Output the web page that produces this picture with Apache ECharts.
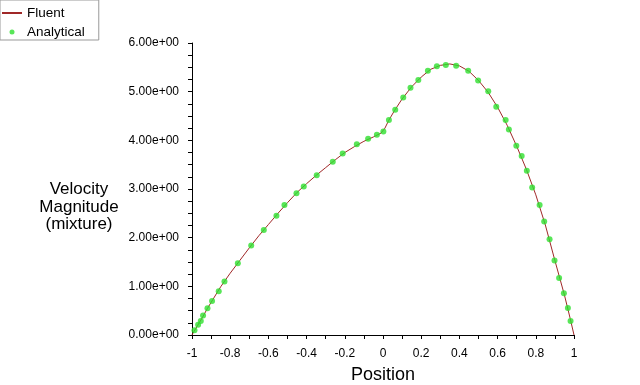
<!DOCTYPE html>
<html>
<head>
<meta charset="utf-8">
<script src="https://cdn.jsdelivr.net/npm/echarts@6/dist/echarts.min.js"></script>
<style>html,body{margin:0;padding:0;background:#fff}#c{width:640px;height:385px}</style>
</head>
<body>
<div id="c"></div>
<script>
const fluentX = [-1,-0.99,-0.97,-0.95,-0.92,-0.9,-0.85,-0.8,-0.75,-0.7,-0.65,-0.6,-0.55,-0.5,-0.45,-0.4,-0.35,-0.3,-0.25,-0.2,-0.15,-0.1,-0.05,-0.01,0.01,0.03,0.06,0.1,0.15,0.2,0.25,0.3,0.35,0.4,0.45,0.5,0.55,0.6,0.65,0.7,0.75,0.8,0.85,0.9,0.95,0.98,1.0];
const fluentY = [0,0.07,0.2,0.33,0.54,0.67,0.99,1.27,1.53,1.79,2.04,2.27,2.5,2.72,2.93,3.11,3.28,3.44,3.6,3.75,3.87,3.98,4.07,4.15,4.25,4.41,4.61,4.85,5.1,5.3,5.46,5.54,5.57,5.53,5.42,5.23,4.99,4.68,4.31,3.88,3.41,2.88,2.26,1.53,0.82,0.34,0];
const analyticalX = [-0.987,-0.968,-0.954,-0.942,-0.919,-0.895,-0.860,-0.830,-0.760,-0.690,-0.624,-0.558,-0.516,-0.453,-0.415,-0.347,-0.263,-0.211,-0.137,-0.078,-0.032,0.002,0.031,0.064,0.106,0.144,0.185,0.235,0.282,0.329,0.383,0.446,0.498,0.551,0.593,0.642,0.659,0.698,0.726,0.753,0.781,0.820,0.844,0.872,0.898,0.922,0.947,0.968,0.982];
const analyticalY = [0.097,0.21,0.29,0.40,0.55,0.70,0.90,1.10,1.475,1.84,2.16,2.45,2.67,2.915,3.05,3.285,3.56,3.73,3.92,4.03,4.115,4.18,4.42,4.63,4.88,5.08,5.24,5.43,5.52,5.55,5.535,5.43,5.23,5.01,4.69,4.42,4.225,3.89,3.68,3.375,3.03,2.67,2.33,1.97,1.53,1.17,0.86,0.555,0.29];
const yTickLabels = ['0.00e+00','1.00e+00','2.00e+00','3.00e+00','4.00e+00','5.00e+00','6.00e+00'];
const xTickLabels = {'-1':'-1','-0.8':'-0.8','-0.6':'-0.6','-0.4':'-0.4','-0.2':'-0.2','0':'0','0.2':'0.2','0.4':'0.4','0.6':'0.6','0.8':'0.8','1':'1'};
const yAxisTitle = ['Velocity','Magnitude','(mixture)'];

const FONT = 'Liberation Sans, Arial, sans-serif';
const chart = echarts.init(document.getElementById('c'), null, {renderer:'canvas'});
chart.setOption({
  backgroundColor:'#fff',
  animation:false,
  grid:{left:192, right:66, top:43, bottom:50, containLabel:false, outerBoundsMode:'none'},
  legend:{
    orient:'vertical', left:0, top:0,
    padding:[5,14,0,1],
    itemGap:3, itemWidth:20, itemHeight:5,
    borderColor:'#999', borderWidth:1,
    textStyle:{fontFamily:FONT, fontSize:13.5, color:'#000', lineHeight:16},
    data:[{name:'Fluent', itemStyle:{opacity:0}}, 'Analytical']
  },
  xAxis:{
    type:'value', min:-1, max:1, interval:0.2,
    name:'Position', nameLocation:'middle', nameGap:31,
    nameTextStyle:{fontFamily:FONT, fontSize:18, color:'#000'},
    axisLine:{show:true, onZero:false, lineStyle:{color:'#000', width:1}},
    axisTick:{show:true, length:4, lineStyle:{color:'#000'}},
    minorTick:{show:true, splitNumber:2, length:4, lineStyle:{color:'#000'}},
    splitLine:{show:false},
    axisLabel:{fontFamily:FONT, fontSize:12, color:'#000', margin:13,
      formatter:v=>{const k=String(Math.round(v*10)/10); return xTickLabels[k]!==undefined?xTickLabels[k]:k;}}
  },
  yAxis:{
    type:'value', min:0, max:6, interval:1,
    axisLine:{show:true, onZero:false, lineStyle:{color:'#000', width:1}},
    axisTick:{show:true, length:4, lineStyle:{color:'#000'}},
    minorTick:{show:true, splitNumber:4, length:4, lineStyle:{color:'#000'}},
    splitLine:{show:false},
    axisLabel:{fontFamily:FONT, fontSize:12, color:'#000', margin:13,
      formatter:v=>yTickLabels[Math.round(v)]}
  },
  graphic:[{
    type:'text', x:79, y:207,
    style:{text:yAxisTitle.join('\n'), font:'17px '+FONT, fill:'#000',
      align:'center', verticalAlign:'middle', lineHeight:17.5}
  }],
  series:[
    {name:'Fluent', type:'line', data:fluentX.map((x,i)=>[x,fluentY[i]]),
     showSymbol:false, symbol:'none', smooth:false,
     lineStyle:{color:'#a02828', width:1}, itemStyle:{color:'#a02828'}, z:2},
    {name:'Analytical', type:'scatter', data:analyticalX.map((x,i)=>[x,analyticalY[i]]),
     symbol:'circle', symbolSize:6, itemStyle:{color:'#2ee02e'}, z:3}
  ]
});
</script>
</body>
</html>
